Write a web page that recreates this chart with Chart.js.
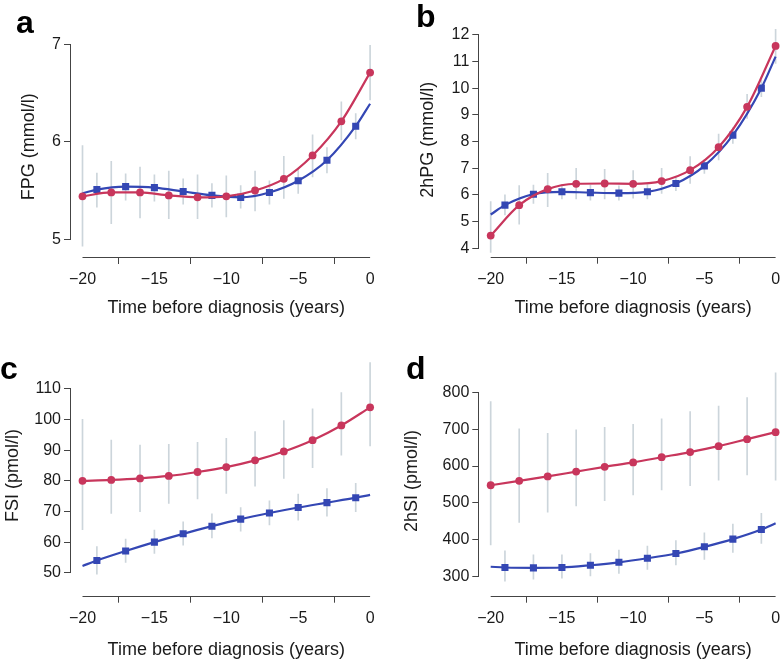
<!DOCTYPE html>
<html>
<head>
<meta charset="utf-8">
<title>Glycaemia and insulin before diagnosis</title>
<script src="https://cdn.jsdelivr.net/npm/chart.js@4.4.0/dist/chart.umd.min.js"></script>
<style>
  body { margin: 0; background: #fff; width: 782px; height: 659px; overflow: hidden; position: relative; }
  canvas { position: absolute; }
</style>
</head>
<body>
<canvas id="chartA" width="391" height="330" style="left:0;top:0"></canvas>
<canvas id="chartB" width="400" height="330" style="left:391px;top:0"></canvas>
<canvas id="chartC" width="391" height="329" style="left:0;top:330px"></canvas>
<canvas id="chartD" width="400" height="329" style="left:391px;top:330px"></canvas>
<script>
// years of the two groups (circles on even years, squares on odd years)
const yearsRed = [-20, -18, -16, -14, -12, -10, -8, -6, -4, -2, 0];
const yearsBlue = [-19, -17, -15, -13, -11, -9, -7, -5, -3, -1];
const xTicks = [-20, -15, -10, -5, 0];

// a: FPG
const fpgRed = [5.44, 5.48, 5.48, 5.45, 5.43, 5.44, 5.50, 5.62, 5.86, 6.21, 6.71];
const fpgRedLo = [4.93, 5.16, 5.22, 5.21, 5.21, 5.23, 5.29, 5.42, 5.64, 6.02, 6.43];
const fpgRedHi = [5.96, 5.80, 5.74, 5.70, 5.66, 5.65, 5.70, 5.85, 6.07, 6.41, 6.99];
const fpgBlue = [5.51, 5.54, 5.53, 5.49, 5.45, 5.43, 5.48, 5.60, 5.81, 6.16];
const fpgBlueLo = [5.33, 5.40, 5.39, 5.36, 5.33, 5.32, 5.36, 5.47, 5.68, 6.03];
const fpgBlueHi = [5.68, 5.67, 5.66, 5.62, 5.57, 5.55, 5.60, 5.73, 5.94, 6.29];
const fpgBlueEnds = [5.47, 6.39];
const fpgTicks = [5, 6, 7];

// b: 2hPG
const hpgRed = [4.48, 5.62, 6.22, 6.42, 6.43, 6.42, 6.52, 6.93, 7.79, 9.30, 11.58];
const hpgRedLo = [3.85, 4.91, 5.56, 5.85, 5.85, 5.88, 6.06, 6.43, 7.31, 8.87, 10.93];
const hpgRedHi = [5.75, 6.35, 6.81, 7.00, 6.96, 6.91, 7.00, 7.44, 8.28, 9.77, 12.20];
const hpgBlue = [5.62, 6.03, 6.12, 6.09, 6.07, 6.12, 6.43, 7.09, 8.24, 10.00];
const hpgBlueLo = [5.25, 5.68, 5.85, 5.81, 5.81, 5.85, 6.16, 6.81, 7.93, 9.68];
const hpgBlueHi = [6.01, 6.37, 6.39, 6.37, 6.34, 6.39, 6.68, 7.33, 8.52, 10.30];
const hpgBlueEnds = [5.27, 11.18];
const hpgTicks = [4, 5, 6, 7, 8, 9, 10, 11, 12];

// c: FSI
const fsiRed = [80.0, 80.3, 80.8, 81.6, 82.9, 84.5, 86.7, 89.6, 93.3, 98.1, 104.0];
const fsiRedLo = [64.1, 69.4, 69.9, 72.6, 74.1, 75.9, 78.3, 80.8, 84.3, 88.4, 91.4];
const fsiRedHi = [100.1, 93.3, 91.7, 91.9, 92.6, 93.9, 96.1, 99.7, 103.5, 108.8, 118.6];
const fsiBlue = [54.0, 57.1, 60.0, 62.7, 65.2, 67.5, 69.5, 71.3, 72.9, 74.5];
const fsiBlueLo = [49.5, 53.4, 56.3, 59.0, 61.4, 63.6, 65.6, 67.2, 68.5, 69.9];
const fsiBlueHi = [58.5, 61.0, 63.9, 66.6, 69.2, 71.3, 73.5, 75.7, 77.5, 79.2];
const fsiBlueEnds = [52.2, 75.4];
const fsiTicks = [50, 60, 70, 80, 90, 100, 110];

// d: 2hSI
const hsiRed = [548, 560, 572, 585, 598, 610, 624, 638, 654, 673, 692];
const hsiRedLo = [386, 447, 475, 492, 506, 522, 535, 547, 562, 576, 562];
const hsiRedHi = [775, 701, 689, 698, 705, 713, 728, 748, 763, 786, 853];
const hsiBlue = [325, 324, 325, 331, 339, 350, 363, 381, 402, 428];
const hsiBlueLo = [288, 293, 296, 302, 309, 320, 332, 347, 366, 390];
const hsiBlueHi = [370, 359, 359, 363, 372, 383, 398, 419, 443, 472];
const hsiBlueEnds = [327, 445];
const hsiTicks = [300, 400, 500, 600, 700, 800];

const RED = '#c8365c';
const BLUE = '#3447b4';
const BAR = '#ccd5db';
const AXIS = '#444';
const TEXT = '#1a1a1a';

Chart.defaults.font.family = "'Liberation Sans', Arial, Helvetica, sans-serif";
Chart.defaults.color = TEXT;

function pairs(xs, ys) {
    return xs.map((x, i) => ({ x: x, y: ys[i] }));
}
function ranges(xs, lo, hi) {
    return xs.map((x, i) => ({ x: x, y: [lo[i], hi[i]] }));
}
function minus(v) {
    return String(v).replace('-', '\u2212');
}

// R style axes: line only from first to last tick
const rAxes = {
    id: 'rAxes',
    afterDraw(chart) {
        const { ctx, chartArea } = chart;
        const xs = chart.scales.x, ys = chart.scales.y;
        const bx = Math.round(chartArea.left) - 0.5;
        const by = Math.round(chartArea.bottom) + 0.5;
        ctx.save();
        ctx.strokeStyle = AXIS;
        ctx.lineWidth = 1;
        ctx.beginPath();
        ctx.moveTo(bx, ys.getPixelForValue(ys.ticks[0].value));
        ctx.lineTo(bx, ys.getPixelForValue(ys.ticks[ys.ticks.length - 1].value));
        ctx.moveTo(xs.getPixelForValue(xs.ticks[0].value), by);
        ctx.lineTo(xs.getPixelForValue(xs.ticks[xs.ticks.length - 1].value), by);
        ctx.stroke();
        ctx.restore();
    }
};

const panelLetter = {
    id: 'panelLetter',
    afterDraw(chart, args, opts) {
        const ctx = chart.ctx;
        ctx.save();
        ctx.font = "bold 32px 'Liberation Sans', Arial, sans-serif";
        ctx.fillStyle = '#000';
        ctx.textBaseline = 'alphabetic';
        ctx.fillText(opts.text, opts.x, opts.y);
        ctx.restore();
    }
};

function makePanel(id, p) {
    const canvas = document.getElementById(id);
    const W = canvas.width, H = canvas.height;
    const blueLine = [{ x: -20, y: p.blueEnds[0] }].concat(pairs(yearsBlue, p.blue), [{ x: 0, y: p.blueEnds[1] }]);
    const n = blueLine.length;

    return new Chart(canvas.getContext('2d'), {
        type: 'line',
        data: {
            datasets: [
                {
                    type: 'bar',
                    data: ranges(yearsRed, p.redLo, p.redHi),
                    backgroundColor: BAR,
                    barThickness: 1,
                    grouped: false,
                    order: 3
                },
                {
                    type: 'bar',
                    data: ranges(yearsBlue, p.blueLo, p.blueHi),
                    backgroundColor: BAR,
                    barThickness: 1,
                    grouped: false,
                    order: 3
                },
                {
                    data: blueLine,
                    borderColor: BLUE,
                    backgroundColor: BLUE,
                    borderWidth: 2.2,
                    pointStyle: 'rect',
                    pointRadius: c => (c.dataIndex === 0 || c.dataIndex === n - 1) ? 0 : 5,
                    pointBorderWidth: 0,
                    cubicInterpolationMode: 'monotone',
                    order: 1
                },
                {
                    data: pairs(yearsRed, p.red),
                    borderColor: RED,
                    backgroundColor: RED,
                    borderWidth: 2.2,
                    pointStyle: 'circle',
                    pointRadius: 3.9,
                    pointBorderWidth: 0,
                    cubicInterpolationMode: 'monotone',
                    order: 0
                }
            ]
        },
        options: {
            responsive: false,
            animation: false,
            events: [],
            layout: {
                padding: { top: p.top, right: W - p.left - 310.6, bottom: 0, left: 0 }
            },
            plugins: {
                legend: { display: false },
                tooltip: { enabled: false },
                panelLetter: { text: p.letter, x: p.letterX, y: p.letterY }
            },
            scales: {
                x: {
                    type: 'linear',
                    min: -20.8,
                    max: 0.8,
                    offset: false,
                    afterBuildTicks: s => { s.ticks = xTicks.map(v => ({ value: v })); },
                    afterFit: s => { s.height = H - p.bottom; },
                    border: { display: false },
                    grid: { drawOnChartArea: false, drawTicks: true, tickLength: 7, color: AXIS },
                    ticks: { font: { size: 16 }, padding: 6, maxRotation: 0, callback: v => minus(v) },
                    title: {
                        display: true,
                        text: 'Time before diagnosis (years)',
                        font: { size: 18 },
                        padding: { top: 0, bottom: p.xTitlePad }
                    }
                },
                y: {
                    type: 'linear',
                    min: p.yMin,
                    max: p.yMax,
                    afterBuildTicks: s => { s.ticks = p.yTicks.map(v => ({ value: v })); },
                    afterFit: s => { s.width = p.left; },
                    border: { display: false },
                    grid: { drawOnChartArea: false, drawTicks: true, tickLength: 7, color: AXIS },
                    ticks: { font: { size: 16 }, padding: 3, callback: v => minus(v) },
                    title: {
                        display: true,
                        text: p.yTitle,
                        font: { size: 18 },
                        padding: { top: p.yTitlePad, bottom: 0 }
                    }
                }
            }
        },
        plugins: [rAxes, panelLetter]
    });
}

makePanel('chartA', {
    letter: 'a', letterX: 16, letterY: 33,
    left: 71, top: 36.5, bottom: 257,
    yMin: 4.818, yMax: 7.08, yTicks: fpgTicks, yTitle: 'FPG (mmol/l)',
    yTitlePad: 18.4, xTitlePad: 11.2,
    red: fpgRed, redLo: fpgRedLo, redHi: fpgRedHi,
    blue: fpgBlue, blueLo: fpgBlueLo, blueHi: fpgBlueHi, blueEnds: fpgBlueEnds
});

makePanel('chartB', {
    letter: 'b', letterX: 25, letterY: 27,
    left: 88.3, top: 22.7, bottom: 256.7,
    yMin: 3.69, yMax: 12.45, yTicks: hpgTicks, yTitle: '2hPG (mmol/l)',
    yTitlePad: 26.7, xTitlePad: 11.2,
    red: hpgRed, redLo: hpgRedLo, redHi: hpgRedHi,
    blue: hpgBlue, blueLo: hpgBlueLo, blueHi: hpgBlueHi, blueEnds: hpgBlueEnds
});

makePanel('chartC', {
    letter: 'c', letterX: 0, letterY: 48.5,
    left: 71, top: 25.3, bottom: 265.7,
    yMin: 42.5, yMax: 121, yTicks: fsiTicks, yTitle: 'FSI (pmol/l)',
    yTitlePad: 2.5, xTitlePad: -1.8,
    red: fsiRed, redLo: fsiRedLo, redHi: fsiRedHi,
    blue: fsiBlue, blueLo: fsiBlueLo, blueHi: fsiBlueHi, blueEnds: fsiBlueEnds
});

makePanel('chartD', {
    letter: 'd', letterX: 15, letterY: 48.5,
    left: 88.3, top: 36.5, bottom: 265.7,
    yMin: 248.5, yMax: 870, yTicks: hsiTicks, yTitle: '2hSI (pmol/l)',
    yTitlePad: 10, xTitlePad: -1.8,
    red: hsiRed, redLo: hsiRedLo, redHi: hsiRedHi,
    blue: hsiBlue, blueLo: hsiBlueLo, blueHi: hsiBlueHi, blueEnds: hsiBlueEnds
});
</script>
</body>
</html>
